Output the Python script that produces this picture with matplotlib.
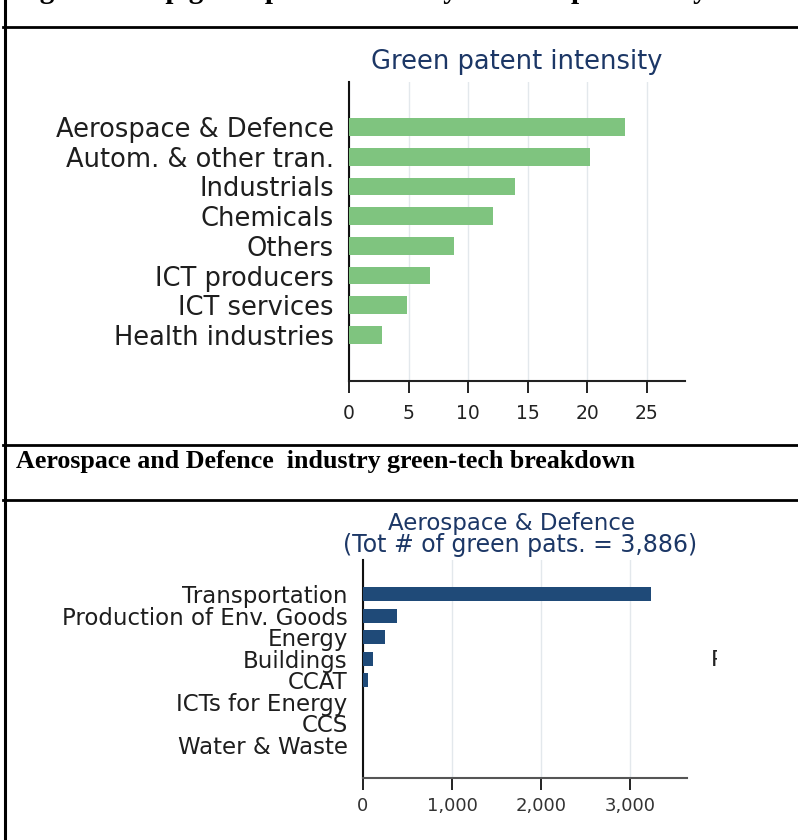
import matplotlib
matplotlib.use("Agg")
import matplotlib.pyplot as plt
from matplotlib.lines import Line2D

# ---------------- data ----------------
industries = ["Aerospace & Defence", "Autom. & other tran.", "Industrials", "Chemicals",
              "Others", "ICT producers", "ICT services", "Health industries"]
intensity = [23.2, 20.2, 13.9, 12.1, 8.8, 6.8, 4.9, 2.8]
intensity_ticks = [0, 5, 10, 15, 20, 25]

techs = ["Transportation", "Production of Env. Goods", "Energy", "Buildings", "CCAT",
         "ICTs for Energy", "CCS", "Water & Waste"]
tech_counts = [3236, 380, 248, 110, 57, 0, 0, 0]
count_ticks = [0, 1000, 2000, 3000]
count_tick_labels = ["0", "1,000", "2,000", "3,000"]

W, H = 798, 840
fig = plt.figure(figsize=(W / 100, H / 100), dpi=100)
fig.patch.set_facecolor("white")

def fx(px):
    return px / W

def fy(py):
    return 1 - py / H

def add_axes_px(left, top, right, bottom):
    return fig.add_axes([fx(left), fy(bottom), fx(right) - fx(left), (bottom - top) / H])

# ------------- table lines -------------
for (x0, x1, y) in [(3, 798, 27), (3, 798, 445), (3, 798, 500)]:
    fig.add_artist(Line2D([fx(x0), fx(x1)], [fy(y), fy(y)], color="black", lw=2.0,
                          transform=fig.transFigure))
fig.add_artist(Line2D([fx(4.5), fx(4.5)], [0, 1], color="black", lw=2.2,
                      transform=fig.transFigure))

# top (cut-off) caption: only the lowest part of the glyphs remains visible
fig.text(fx(14), fy(-2.5), "Figure 3: Top green patent intensity and composition by industry,",
         family="Liberation Serif", weight="bold", fontsize=21, va="baseline", ha="left")

# section header
fig.text(fx(16), fy(468), "Aerospace and Defence  industry green-tech breakdown",
         family="Liberation Serif", weight="bold", fontsize=18.7, va="baseline", ha="left")

navy = "#1c3766"
label_col = "#1e1e1e"

# ------------- chart 1 -------------
ax1 = add_axes_px(349, 82, 685, 381)
ypos1 = list(range(len(industries)))
ax1.barh(ypos1, intensity, height=0.6, color="#7fc47f", zorder=3)
ax1.set_xlim(0, 28.2)
ax1.set_ylim(8.55, -1.515)
ax1.set_xticks(intensity_ticks)
ax1.set_xticklabels([str(t) for t in intensity_ticks], fontsize=13.5, color="#222222")
ax1.set_yticks(ypos1)
ax1.set_yticklabels(industries, fontsize=18.5, color=label_col)
ax1.tick_params(axis="y", length=0, pad=11)
ax1.tick_params(axis="x", length=8.5, width=1.4, pad=8, color="#222222")
ax1.grid(axis="x", color="#e3e8ec", lw=1.0, zorder=0)
for s in ["top", "right"]:
    ax1.spines[s].set_visible(False)
ax1.spines["left"].set_linewidth(1.5)
ax1.spines["bottom"].set_linewidth(1.5)
ax1.spines["left"].set_color("#111111")
ax1.spines["bottom"].set_color("#222222")
fig.text(fx(517), fy(69), "Green patent intensity", fontsize=18.5, color=navy,
         ha="center", va="baseline")

# ------------- chart 2 -------------
ax2 = add_axes_px(363, 560, 687, 778)
ypos2 = list(range(len(techs)))
ax2.barh(ypos2, tech_counts, height=0.65, color="#1f4a78", zorder=3)
ax2.set_xlim(0, 3640)
ax2.set_ylim(8.53, -1.576)
ax2.set_xticks(count_ticks)
ax2.set_xticklabels(count_tick_labels, fontsize=13, color="#333333")
ax2.set_yticks(ypos2)
ax2.set_yticklabels(techs, fontsize=16.5, color=label_col)
ax2.tick_params(axis="y", length=0, pad=11)
ax2.tick_params(axis="x", length=8.5, width=1.4, pad=5, color="#222222")
ax2.grid(axis="x", color="#e3e8ec", lw=1.0, zorder=0)
for s in ["top", "right"]:
    ax2.spines[s].set_visible(False)
ax2.spines["left"].set_linewidth(1.5)
ax2.spines["bottom"].set_linewidth(1.5)
ax2.spines["left"].set_color("#111111")
ax2.spines["bottom"].set_color("#555555")
fig.text(fx(512), fy(530), "Aerospace & Defence", fontsize=16.5, color=navy,
         ha="center", va="baseline")
fig.text(fx(520), fy(552), "(Tot # of green pats. = 3,886)", fontsize=17, color=navy,
         ha="center", va="baseline")

# cropped legend letter at right
axc = add_axes_px(706, 648, 717, 672)
axc.set_axis_off()
axc.set_xlim(0, 1)
axc.set_ylim(0, 1)
axc.text(0.4, 0.5, "R", fontsize=16, color="#222222", ha="left", va="center", clip_on=True)

fig.savefig("out.png", dpi=100, facecolor="white")
